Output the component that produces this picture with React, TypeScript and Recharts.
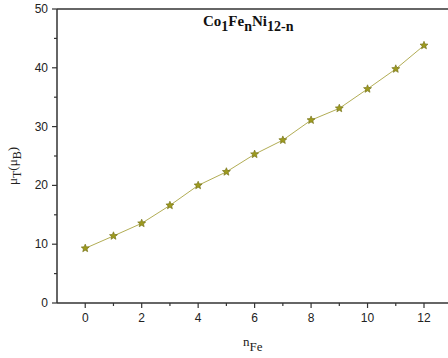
import { LineChart, Line, XAxis, YAxis, ReferenceLine } from "recharts";

// Fe count in the Co1FenNi12-n cluster
const N_FE = [0, 1, 2, 3, 4, 5, 6, 7, 8, 9, 10, 11, 12];
// total moment (μB)
const MU_T = [9.3, 11.4, 13.55, 16.6, 20.0, 22.3, 25.3, 27.7, 31.1, 33.1, 36.4, 39.8, 43.8];

const X_TICKS = [0, 1, 2, 3, 4, 5, 6, 7, 8, 9, 10, 11, 12];
const Y_TICKS = [0, 5, 10, 15, 20, 25, 30, 35, 40, 45, 50];

const data = N_FE.map((n, i) => ({ n, mu: MU_T[i] }));

const AXIS = "#333";
const LINE = "#b2ad55";
const STAR_FILL = "#9d9a1f";
const STAR_EDGE = "#6e6c12";
const TICK_FONT = "'Liberation Sans', Arial, sans-serif";
const SERIF = "'Liberation Serif', 'Times New Roman', serif";

function starPath(cx: number, cy: number, r: number) {
  const pts: string[] = [];
  for (let i = 0; i < 10; i++) {
    const rad = i % 2 === 0 ? r : r * 0.45;
    const a = -Math.PI / 2 + (i * Math.PI) / 5;
    pts.push(`${(cx + rad * Math.cos(a)).toFixed(2)},${(cy + rad * Math.sin(a)).toFixed(2)}`);
  }
  return `M${pts.join("L")}Z`;
}

function StarDot(props: any) {
  const { cx, cy } = props;
  if (cx == null || cy == null) return <g />;
  return <path d={starPath(cx, cy, 4.2)} fill={STAR_FILL} stroke={STAR_EDGE} strokeWidth={0.6} />;
}

function XTick({ x, y, payload }: any) {
  const v = payload.value;
  const major = v % 2 === 0;
  return (
    <g>
      <line x1={x} x2={x} y1={y} y2={y + (major ? 5 : 3)} stroke={AXIS} strokeWidth={1.2} />
      {major && (
        <text x={x} y={y + 19} textAnchor="middle" fontSize={12} fontFamily={TICK_FONT} fill="#222">
          {v}
        </text>
      )}
    </g>
  );
}

function YTick({ x, y, payload }: any) {
  const v = payload.value;
  const major = v % 10 === 0;
  return (
    <g>
      <line x1={x} x2={x - (major ? 5 : 3)} y1={y} y2={y} stroke={AXIS} strokeWidth={1.2} />
      {major && (
        <text x={x - 9} y={y + 4} textAnchor="end" fontSize={12} fontFamily={TICK_FONT} fill="#222">
          {v}
        </text>
      )}
    </g>
  );
}

export default function App() {
  return (
    <div style={{ position: "fixed", left: 0, top: 0, width: 448, height: 358, background: "#fff", overflow: "hidden" }}>
      <LineChart width={448} height={358} data={data} margin={{ top: 9, right: 0, bottom: 0, left: 0 }}>
        <XAxis
          dataKey="n"
          type="number"
          domain={[-1, 12.85]}
          ticks={X_TICKS}
          interval={0}
          allowDataOverflow
          height={55}
          tickSize={0}
          tickMargin={0}
          tick={<XTick />}
          axisLine={{ stroke: AXIS, strokeWidth: 1.5 }}
        />
        <YAxis
          type="number"
          domain={[0, 50]}
          ticks={Y_TICKS}
          interval={0}
          width={57}
          tickSize={0}
          tickMargin={0}
          tick={<YTick />}
          axisLine={{ stroke: AXIS, strokeWidth: 1.5 }}
        />
        <ReferenceLine y={50} stroke={AXIS} strokeWidth={1.5} />
        <Line
          dataKey="mu"
          stroke={LINE}
          strokeWidth={1}
          dot={(p: any) => <StarDot key={p.index} {...p} />}
          activeDot={false}
          isAnimationActive={false}
        />
      </LineChart>

      <div
        style={{
          position: "absolute", left: 203, top: 12, fontFamily: SERIF, fontWeight: "bold",
          fontSize: 15, color: "#111", whiteSpace: "nowrap", lineHeight: "18px",
        }}
      >
        Co<sub style={{ fontSize: 14, verticalAlign: -5 }}>1</sub>Fe
        <sub style={{ fontSize: 14, verticalAlign: -5 }}>n</sub>Ni
        <sub style={{ fontSize: 14, verticalAlign: -5 }}>12-n</sub>
      </div>

      <div
        style={{
          position: "absolute", left: 15, top: 166, transform: "translate(-50%, -50%) rotate(-90deg)",
          fontFamily: SERIF, fontSize: 13, color: "#222", whiteSpace: "nowrap", lineHeight: "16px",
        }}
      >
        μ<sub style={{ fontSize: 12, verticalAlign: -4 }}>T</sub>(μ<sub style={{ fontSize: 12, verticalAlign: -4 }}>B</sub>)
      </div>

      <div
        style={{
          position: "absolute", left: 243, top: 334, fontFamily: SERIF, fontSize: 13, color: "#222",
          whiteSpace: "nowrap", lineHeight: "16px",
        }}
      >
        n<sub style={{ fontSize: 13, verticalAlign: -5 }}>Fe</sub>
      </div>
    </div>
  );
}
